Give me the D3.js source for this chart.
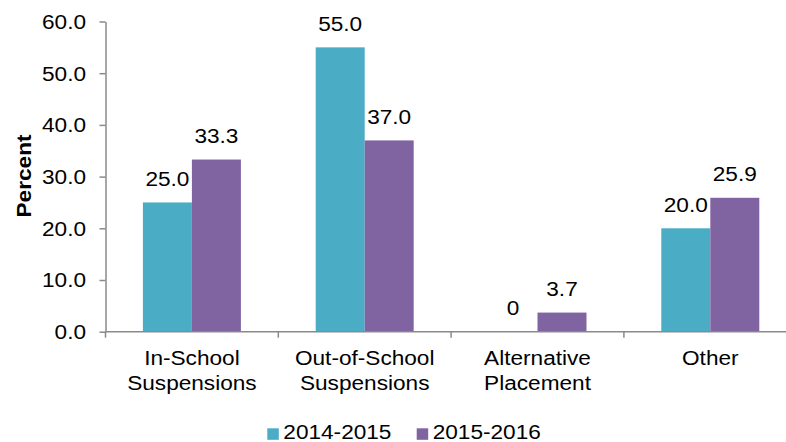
<!DOCTYPE html>
<html>
<head>
<meta charset="utf-8">
<script src="https://cdn.jsdelivr.net/npm/d3@7/dist/d3.min.js"></script>
<style>
  html, body { margin: 0; padding: 0; background: #fff; }
  svg { display: block; }
  text { font-family: "Liberation Sans", Arial, sans-serif; fill: #000; }
</style>
</head>
<body>
<svg id="chart" width="786" height="442"></svg>
<script>
// Data
const categories = [
  ["In-School", "Suspensions"],
  ["Out-of-School", "Suspensions"],
  ["Alternative", "Placement"],
  ["Other"]
];
const seriesNames = ["2014-2015", "2015-2016"];
const values2014 = [25.0, 55.0, 0, 20.0];
const values2015 = [33.3, 37.0, 3.7, 25.9];
const yTicks = [0, 10, 20, 30, 40, 50, 60];
const colors = ["#4BACC6", "#8064A2"];

const series = [values2014, values2015];
const catKeys = categories.map(c => c.join(" "));

const svg = d3.select("#chart");
const FS = 19.5;      // font size
const SX = 1.16;      // horizontal text stretch
const axisColor = "#8a8a8a";

const margin = { left: 105.5, top: 21.5, bottom: 331.7 };

const y = d3.scaleLinear().domain([0, 60]).range([margin.bottom, margin.top]);
const x0 = d3.scaleBand().domain(catKeys).range([105.5, 796.7]).padding(0);
const x1 = d3.scaleBand().domain(seriesNames).range([37.4, x0.bandwidth() - 37.4]).padding(0);

// Bars
const groups = svg.append("g").selectAll("g")
  .data(catKeys)
  .join("g")
  .attr("transform", d => `translate(${x0(d)},0)`);

groups.selectAll("rect")
  .data((d, i) => seriesNames.map((s, j) => ({ s, v: series[j][i], j })))
  .join("rect")
  .attr("x", d => x1(d.s))
  .attr("width", x1.bandwidth())
  .attr("y", d => y(d.v))
  .attr("height", d => y(0) - y(d.v))
  .attr("fill", d => colors[d.j]);

// Value labels
groups.selectAll("text.val")
  .data((d, i) => seriesNames.map((s, j) => ({ s, v: series[j][i], j })))
  .join("text")
  .attr("class", "val")
  .attr("text-anchor", "middle")
  .attr("font-size", FS)
  .attr("transform", d => `translate(${x1(d.s) + x1.bandwidth() / 2},${y(d.v) - 16.5}) scale(${SX},1)`)
  .text(d => d.v === 0 ? "0" : d.v.toFixed(1));

// Y axis
const yAxis = svg.append("g")
  .attr("transform", `translate(${margin.left},0)`)
  .call(d3.axisLeft(y).tickValues(yTicks).tickFormat(d3.format(".1f")).tickSize(6).tickSizeOuter(0));
yAxis.select(".domain").attr("stroke", axisColor).attr("stroke-width", 1.5);
yAxis.selectAll(".tick line").attr("stroke", axisColor).attr("stroke-width", 1.5);
yAxis.selectAll(".tick text")
  .attr("x", null)
  .attr("dy", null)
  .attr("font-size", FS)
  .attr("font-family", "Liberation Sans, Arial, sans-serif")
  .attr("fill", "#000")
  .attr("transform", `translate(-19.5,6.8) scale(${SX},1)`);

// X axis line with ticks at category boundaries
const xAxis = svg.append("g");
xAxis.append("line")
  .attr("x1", x0.range()[0]).attr("x2", x0.range()[1])
  .attr("y1", y(0)).attr("y2", y(0))
  .attr("stroke", axisColor).attr("stroke-width", 1.5);
const boundaries = catKeys.map(k => x0(k)).concat([x0.range()[1]]);
xAxis.selectAll("line.tick")
  .data(boundaries)
  .join("line")
  .attr("class", "tick")
  .attr("x1", d => d).attr("x2", d => d)
  .attr("y1", y(0)).attr("y2", y(0) + 6)
  .attr("stroke", axisColor).attr("stroke-width", 1.5);

// Category labels
const catLabels = svg.append("g").selectAll("text")
  .data(categories)
  .join("text")
  .attr("text-anchor", "middle")
  .attr("font-size", FS)
  .attr("transform", (d, i) => `translate(${x0(catKeys[i]) + x0.bandwidth() / 2},365) scale(${SX},1)`);
catLabels.selectAll("tspan")
  .data(d => d)
  .join("tspan")
  .attr("x", 0)
  .attr("y", (d, i) => i * 25.5)
  .text(d => d);

// Y axis title
svg.append("text")
  .attr("text-anchor", "middle")
  .attr("font-size", FS)
  .attr("font-weight", "bold")
  .attr("transform", `translate(31,176) rotate(-90) scale(${SX},1)`)
  .text("Percent");

// Legend
const legendX = [267.3, 416.7];
const legend = svg.append("g").selectAll("g")
  .data(seriesNames)
  .join("g")
  .attr("transform", (d, i) => `translate(${legendX[i]},0)`);
legend.append("rect")
  .attr("x", 0).attr("y", 428.3)
  .attr("width", 11.5).attr("height", 11.5)
  .attr("fill", (d, i) => colors[i]);
legend.append("text")
  .attr("font-size", FS)
  .attr("transform", `translate(16,439.3) scale(${SX},1)`)
  .text(d => d);
</script>
</body>
</html>
